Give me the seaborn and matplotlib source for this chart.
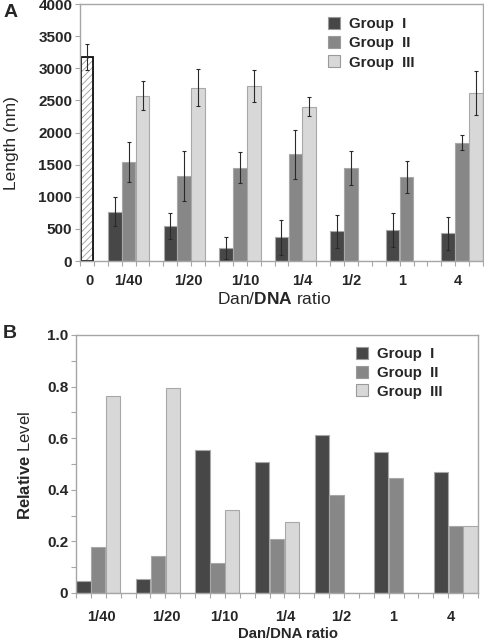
import numpy as np
import pandas as pd
import matplotlib
matplotlib.use("Agg")
import matplotlib.pyplot as plt
from matplotlib.patches import Patch, Rectangle
from matplotlib.ticker import MultipleLocator, FixedLocator
import seaborn as sns

# ---------------- data ----------------
ratios = ["1/40", "1/20", "1/10", "1/4", "1/2", "1", "4"]
groups = ["Group  I", "Group  II", "Group  III"]

control_label = "0"
control_len = 3170
control_sd = 200

len_g1 = [769, 544, 199, 366, 460, 481, 429]
sd_g1 = [225, 200, 167, 277, 253, 261, 251]
len_g2 = [1538, 1328, 1454, 1658, 1449, 1308, 1841]
sd_g2 = [313, 390, 235, 381, 259, 243, 120]
len_g3 = [2573, 2699, 2720, 2401, 0, 0, 2615]
sd_g3 = [228, 288, 248, 144, 0, 0, 340]

rel_g1 = [0.045, 0.054, 0.554, 0.506, 0.613, 0.546, 0.470]
rel_g2 = [0.177, 0.145, 0.116, 0.208, 0.381, 0.446, 0.259]
rel_g3 = [0.765, 0.794, 0.320, 0.277, 0.0, 0.0, 0.259]

# ---------------- style ----------------
colors = ["#474747", "#878787", "#d8d8d8"]
palette = dict(zip(groups, colors))
edge_c = "#a8a8a8"
spine_c = "#a6a6a6"

sns.set_style("ticks")
plt.rcParams["font.family"] = ["Liberation Sans", "DejaVu Sans"]
plt.rcParams["mathtext.fontset"] = "custom"
plt.rcParams["mathtext.rm"] = "Liberation Sans"
plt.rcParams["mathtext.bf"] = "Liberation Sans:bold"
plt.rcParams["hatch.linewidth"] = 0.6

# layout (slot units): 4 slots per ratio group
label_shift_A = [0.0, 0.3, 0.4, 0.5, 0.0, -0.3, -0.3]
label_shift_B = [0.18, 0.6, 0.43, 0.53, 0.3, -0.2, -0.3]


def long_frame(vals, sds, first_slot):
    rows = []
    for j, g in enumerate(groups):
        for i, r in enumerate(ratios):
            rows.append(dict(ratio=r, group=g, value=vals[j][i],
                             sd=(sds[j][i] if sds is not None else 0.0),
                             slot=first_slot + 4 * i + j + 0.5))
    return pd.DataFrame(rows)


dfA = long_frame([len_g1, len_g2, len_g3], [sd_g1, sd_g2, sd_g3], 2)
dfB = long_frame([rel_g1, rel_g2, rel_g3], None, 0)

fig = plt.figure(figsize=(4.85, 6.41), dpi=100)
axA = fig.add_axes([80 / 485, 1 - 261 / 641, 403 / 485, 257 / 641])
axB = fig.add_axes([76 / 485, 1 - 593 / 641, 402 / 485, 258 / 641])

# ---------------- panel A ----------------
sns.barplot(data=dfA, x="slot", y="value", hue="group", hue_order=groups,
            palette=palette, native_scale=True, dodge=False, width=0.98,
            saturation=1, errorbar=None, edgecolor=edge_c, linewidth=0.8,
            legend=False, ax=axA)
n_before = len(axA.patches)
sns.barplot(x=[0.5], y=[control_len], native_scale=True, width=0.86,
            color="white", saturation=1, errorbar=None, edgecolor="#9a9a9a",
            linewidth=0.6, hatch="/////", ax=axA)
for p in axA.patches[n_before:]:
    axA.add_patch(Rectangle(p.get_xy(), p.get_width(), p.get_height(),
                            fill=False, edgecolor="#111111", linewidth=1.3,
                            zorder=p.get_zorder() + 0.1))

mask = dfA["value"] > 0
axA.errorbar(dfA.loc[mask, "slot"], dfA.loc[mask, "value"],
             yerr=dfA.loc[mask, "sd"], fmt="none", ecolor="#2a2a2a",
             elinewidth=0.8, capsize=1.2, capthick=0.8, zorder=5)
axA.errorbar([0.5], [control_len], yerr=[control_sd], fmt="none",
             ecolor="#2a2a2a", elinewidth=0.8, capsize=1.2, capthick=0.8,
             zorder=5)

axA.set_xlim(0, 29)
axA.set_ylim(0, 4000)
posA = [0.67] + [2 + 4 * i + 1.5 + s for i, s in enumerate(label_shift_A)]
axA.xaxis.set_major_locator(FixedLocator(posA))
axA.set_xticklabels([control_label] + ratios, fontsize=10.5, fontweight="bold")
axA.xaxis.set_minor_locator(MultipleLocator(1))
axA.yaxis.set_major_locator(MultipleLocator(500))
axA.set_yticklabels([f"{int(v)}" for v in axA.get_yticks()],
                    fontsize=11, fontweight="bold")
axA.tick_params(axis="x", which="major", length=0, pad=9)
axA.tick_params(axis="x", which="minor", length=3.5, color=spine_c, width=0.8)
axA.tick_params(axis="y", which="major", length=3.5, color=spine_c, width=0.8, pad=2)
axA.set_xlabel(r"Dan/$\mathbf{DNA}$ ratio", fontsize=12.5)
axA.set_ylabel("Length (nm)", fontsize=12.5)
axA.xaxis.set_label_coords(0.481, -0.115)
axA.yaxis.set_label_coords(-0.152, 0.457)
for s in axA.spines.values():
    s.set_color(spine_c)
    s.set_linewidth(1.0)

handles = [Patch(facecolor=c, edgecolor="#9a9a9a", linewidth=0.8) for c in colors]
axA.legend(handles, groups, loc="upper left", bbox_to_anchor=(0.596, 0.978),
           frameon=False, borderpad=0, handlelength=0.85, handleheight=0.85,
           handletextpad=0.55, labelspacing=0.33,
           prop={"weight": "bold", "size": 10.8})

# ---------------- panel B ----------------
sns.barplot(data=dfB, x="slot", y="value", hue="group", hue_order=groups,
            palette=palette, native_scale=True, dodge=False, width=0.96,
            saturation=1, errorbar=None, edgecolor=edge_c, linewidth=0.8,
            legend=False, ax=axB)
axB.set_xlim(0, 27)
axB.set_ylim(0, 1.0)
posB = [4 * i + 1.5 + s for i, s in enumerate(label_shift_B)]
axB.xaxis.set_major_locator(FixedLocator(posB))
axB.set_xticklabels(ratios, fontsize=10.5, fontweight="bold")
axB.xaxis.set_minor_locator(MultipleLocator(1))
axB.yaxis.set_major_locator(MultipleLocator(0.2))
axB.yaxis.set_minor_locator(MultipleLocator(0.1))
axB.set_yticklabels(["0" if abs(v) < 1e-9 else f"{v:.1f}" for v in axB.get_yticks()],
                    fontsize=11, fontweight="bold")
axB.tick_params(axis="x", which="major", length=0, pad=12)
axB.tick_params(axis="x", which="minor", length=3.5, color=spine_c, width=0.8)
axB.tick_params(axis="y", which="both", length=3.5, color=spine_c, width=0.8, pad=2)
axB.set_xlabel("Dan/DNA ratio", fontsize=10.7, fontweight="bold")
axB.set_ylabel(r"$\mathbf{Relative}$ Level", fontsize=12)
axB.xaxis.set_label_coords(0.527, -0.133)
axB.yaxis.set_label_coords(-0.108, 0.496)
for s in axB.spines.values():
    s.set_color(spine_c)
    s.set_linewidth(1.0)

axB.legend(handles, groups, loc="upper left", bbox_to_anchor=(0.677, 0.982),
           frameon=False, borderpad=0, handlelength=0.85, handleheight=0.85,
           handletextpad=0.55, labelspacing=0.3,
           prop={"weight": "bold", "size": 10.8})

fig.text(0.008, 0.993, "A", fontsize=14, fontweight="bold", va="top", ha="left")
fig.text(0.006, 1 - 333 / 641, "B", fontsize=14, fontweight="bold", va="center", ha="left")

fig.savefig("out.png", dpi=100)
